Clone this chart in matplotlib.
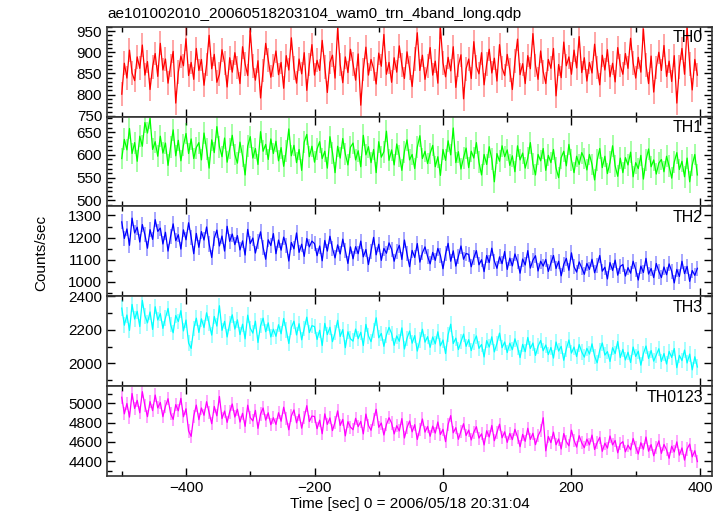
import numpy as np
import matplotlib
matplotlib.use("Agg")
import matplotlib.pyplot as plt
from matplotlib.ticker import MultipleLocator

plt.rcParams['font.family'] = ['Liberation Sans', 'DejaVu Sans']

# light curve binned at 4 s, first bin at -500 s
t_start = -500
bin_size = 4

th0 = [
    801, 874, 839, 905, 851, 833, 889, 862, 917, 846, 878, 812, 866, 897, 843,
    921, 858, 884, 827, 869, 902, 780, 853, 891, 868, 932, 845, 876, 836, 909,
    857, 883, 822, 871, 940, 861, 895, 829, 848, 906, 874, 818, 887, 853, 899,
    864, 826, 913, 872, 845, 951, 868, 834, 880, 792, 857, 921, 882, 841, 869,
    903, 847, 876, 815, 892, 858, 934, 863, 827, 884, 849, 899, 810, 871, 918,
    846, 881, 857, 928, 866, 805, 876, 893, 839, 957, 871, 828, 889, 852, 907,
    872, 834, 896, 775, 859, 912, 846, 883, 861, 825, 898, 867, 942, 848, 876,
    829, 887, 853, 915, 870, 838, 901, 862, 819, 884, 946, 857, 893, 836, 868,
    911, 846, 879, 827, 960, 875, 842, 888, 856, 913, 817, 869, 894, 790, 861,
    884, 838, 925, 866, 849, 899, 823, 872, 907, 851, 886, 832, 918, 863, 845,
    895, 858, 812, 879, 931, 847, 873, 826, 892, 861, 944, 869, 836, 903, 854,
    826, 883, 862, 909, 797, 871, 840, 924, 868, 889, 848, 905, 863, 937, 852,
    887, 832, 876, 851, 919, 864, 823, 893, 858, 906, 842, 874, 830, 911, 869,
    848, 897, 862, 933, 875, 839, 888, 853, 955, 870, 826, 891, 806, 864, 900,
    857, 916, 843, 879, 831, 892, 780, 865, 909, 848, 958, 872, 811, 883, 846,
]

th1 = [
    592, 634, 611, 658, 603, 627, 586, 641, 619, 671, 648, 680, 612, 629, 597,
    641, 604, 626, 577, 618, 655, 598, 632, 587, 621, 647, 603, 635, 592, 616,
    627, 589, 648, 612, 571, 633, 605, 662, 618, 596, 637, 584, 614, 643, 601,
    582, 628, 597, 556, 619, 640, 593, 614, 579, 651, 608, 623, 590, 635, 603,
    630, 587, 616, 575, 609, 657, 598, 621, 583, 612, 566, 628, 645, 596, 619,
    584, 613, 629, 592, 608, 571, 640, 605, 561, 619, 593, 636, 602, 578, 617,
    626, 589, 609, 574, 643, 600, 618, 583, 612, 561, 629, 595, 607, 652, 588,
    611, 578, 624, 598, 566, 607, 633, 589, 601, 570, 617, 642, 592, 608, 581,
    603, 621, 574, 596, 555, 612, 588, 631, 600, 659, 583, 607, 569, 594, 615,
    572, 608, 593, 627, 584, 556, 601, 579, 618, 591, 541, 603, 586, 620, 596,
    611, 577, 598, 563, 620, 589, 604, 571, 593, 627, 580, 556, 601, 587, 614,
    566, 599, 583, 612, 571, 550, 594, 608, 576, 623, 588, 561, 597, 579, 605,
    592, 567, 601, 579, 545, 588, 614, 572, 597, 559, 584, 620, 576, 553, 593,
    561, 594, 578, 606, 552, 583, 570, 599, 547, 588, 613, 574, 589, 558, 582,
    590, 563, 597, 575, 549, 584, 605, 568, 586, 552, 593, 541, 578, 601, 556,
]

th2 = [
    1271, 1196, 1239, 1165, 1288, 1221, 1247, 1180, 1259, 1213, 1152, 1236, 1192, 1281, 1228,
    1243, 1171, 1224, 1139, 1206, 1262, 1186, 1213, 1148, 1235, 1190, 1267, 1202, 1127, 1219,
    1156, 1227, 1189, 1248, 1171, 1110, 1198, 1234, 1162, 1207, 1139, 1251, 1183, 1216, 1168,
    1209, 1144, 1185, 1121, 1237, 1173, 1198, 1130, 1181, 1226, 1155, 1102, 1190, 1164, 1218,
    1127, 1189, 1143, 1202, 1166, 1094, 1178, 1149, 1221, 1133, 1170, 1115, 1196, 1158, 1184,
    1173, 1118, 1162, 1095, 1187, 1139, 1206, 1151, 1108, 1167, 1126, 1193, 1141, 1083, 1158,
    1104, 1159, 1127, 1184, 1113, 1146, 1078, 1139, 1201, 1122, 1170, 1097, 1151, 1129, 1176,
    1148, 1093, 1137, 1165, 1101, 1189, 1126, 1068, 1142, 1110, 1173, 1089, 1131, 1158, 1115,
    1081, 1133, 1097, 1151, 1119, 1059, 1126, 1174, 1093, 1140, 1071, 1115, 1162, 1102, 1128,
    1124, 1068, 1109, 1141, 1077, 1100, 1046, 1119, 1087, 1152, 1094, 1061, 1113, 1082, 1137,
    1056, 1107, 1072, 1126, 1091, 1039, 1103, 1076, 1141, 1062, 1098, 1118, 1049, 1093, 1071,
    1101, 1047, 1085, 1119, 1060, 1093, 1027, 1079, 1106, 1052, 1131, 1068, 1044, 1090, 1063,
    1034, 1083, 1056, 1102, 1041, 1075, 1119, 1048, 1066, 1013, 1087, 1051, 1098, 1030, 1070,
    1078, 1026, 1064, 1039, 1093, 1055, 1008, 1071, 1042, 1106, 1035, 1060, 1019, 1083, 1047,
    1019, 1067, 1032, 1081, 1048, 995, 1056, 1024, 1093, 1037, 1070, 1002, 1051, 1029, 1061,
]

th3 = [
    2329, 2227, 2288, 2196, 2351, 2264, 2310, 2219, 2375, 2283, 2241, 2306, 2202, 2337, 2258,
    2296, 2208, 2271, 2327, 2230, 2182, 2285, 2249, 2314, 2193, 2258, 2121, 2089, 2207, 2269,
    2184, 2265, 2213, 2301, 2237, 2168, 2279, 2222, 2343, 2196, 2250, 2157, 2236, 2289, 2204,
    2259, 2171, 2233, 2146, 2287, 2209, 2180, 2251, 2124, 2224, 2269, 2188, 2241, 2157, 2203,
    2161, 2230, 2176, 2267, 2198, 2118, 2214, 2251, 2169, 2236, 2140, 2209, 2275, 2183, 2224,
    2219, 2142, 2197, 2106, 2238, 2171, 2215, 2129, 2183, 2256, 2160, 2201, 2093, 2188, 2146,
    2132, 2204, 2147, 2185, 2106, 2232, 2163, 2129, 2196, 2271, 2152, 2178, 2101, 2169, 2214,
    2178, 2107, 2163, 2131, 2211, 2085, 2149, 2192, 2120, 2165, 2073, 2139, 2203, 2126, 2159,
    2095, 2157, 2116, 2188, 2104, 2139, 2058, 2171, 2233, 2118, 2150, 2082, 2129, 2174, 2101,
    2141, 2076, 2127, 2163, 2089, 2112, 2038, 2135, 2097, 2158, 2068, 2119, 2180, 2093, 2127,
    2064, 2120, 2081, 2146, 2095, 2034, 2113, 2069, 2154, 2088, 2121, 2047, 2102, 2136, 2075,
    2109, 2052, 2094, 2031, 2127, 2073, 2101, 2018, 2085, 2139, 2061, 2097, 2040, 2112, 2068,
    2037, 2089, 2055, 2116, 2042, 2003, 2078, 2121, 2049, 2070, 2011, 2093, 2058, 2130, 2034,
    2083, 2020, 2066, 2005, 2097, 2041, 2072, 1989, 2058, 2103, 2029, 2076, 2013, 2050, 2087,
    2011, 2058, 1996, 2071, 2035, 2088, 1974, 2047, 2016, 2079, 2002, 2055, 1961, 2039, 1978,
]

th0123 = [
    5063, 4891, 4998, 4857, 5102, 4947, 5031, 4902, 5121, 4976, 4862, 5018, 4925, 5086, 4953,
    5009, 4862, 4971, 5048, 4893, 4834, 4987, 4923, 5052, 4861, 4944, 4714, 4658, 4867, 4982,
    4831, 4952, 4876, 5017, 4903, 4789, 4968, 4871, 5071, 4842, 4920, 4803, 4911, 4993, 4858,
    4939, 4806, 4897, 4762, 4981, 4853, 4818, 4927, 4741, 4889, 4952, 4826, 4902, 4779, 4851,
    4782, 4903, 4815, 4960, 4847, 4726, 4871, 4932, 4798, 4887, 4743, 4853, 4976, 4812, 4868,
    4864, 4737, 4826, 4685, 4891, 4782, 4849, 4718, 4806, 4922, 4771, 4834, 4663, 4810, 4754,
    4727, 4845, 4759, 4813, 4684, 4889, 4770, 4721, 4833, 4938, 4752, 4796, 4672, 4781, 4851,
    4796, 4683, 4768, 4714, 4842, 4641, 4749, 4817, 4705, 4779, 4626, 4733, 4838, 4702, 4761,
    4659, 4764, 4692, 4807, 4677, 4731, 4603, 4782, 4873, 4695, 4748, 4628, 4712, 4789, 4667,
    4723, 4621, 4702, 4758, 4640, 4684, 4569, 4716, 4652, 4771, 4613, 4697, 4784, 4643, 4705,
    4596, 4688, 4624, 4731, 4651, 4551, 4679, 4607, 4742, 4626, 4690, 4572, 4663, 4718, 4851,
    4508, 4657, 4593, 4702, 4571, 4631, 4528, 4687, 4603, 4560, 4722, 4619, 4547, 4665, 4590,
    4541, 4629, 4570, 4671, 4522, 4593, 4648, 4503, 4587, 4536, 4662, 4569, 4615, 4488, 4580,
    4603, 4498, 4567, 4519, 4636, 4547, 4476, 4592, 4525, 4651, 4504, 4572, 4457, 4540, 4611,
    4482, 4574, 4519, 4431, 4556, 4497, 4601, 4463, 4538, 4412, 4527, 4578, 4446, 4509, 4397,
]

band_names = ["TH0", "TH1", "TH2", "TH3", "TH0123"]
band_errors = [28, 24, 34, 46, 68]
colors = ["#ff0000", "#00ff00", "#0000ff", "#00ffff", "#ff00ff"]
ylims = [(748, 960), (487, 684), (935, 1341), (1865, 2400), (4250, 5180)]
major_steps = [50, 50, 100, 200, 200]
minor_steps = [10, 10, 50, 100, 100]

series = [th0, th1, th2, th3, th0123]
t = t_start + bin_size * np.arange(len(th0))

fig, axes = plt.subplots(5, 1, sharex=True, figsize=(7.23, 5.16), dpi=100)
fig.subplots_adjust(left=0.148, right=0.985, top=0.948, bottom=0.078, hspace=0)

for i, ax in enumerate(axes):
    y = np.array(series[i])
    ax.errorbar(t, y, yerr=band_errors[i], fmt='none', ecolor=colors[i],
                elinewidth=1.1, alpha=0.45)
    ax.plot(t, y, color=colors[i], lw=0.9)
    ax.set_ylim(*ylims[i])
    ax.set_xlim(-523, 419)
    ax.yaxis.set_major_locator(MultipleLocator(major_steps[i]))
    ax.yaxis.set_minor_locator(MultipleLocator(minor_steps[i]))
    ax.xaxis.set_major_locator(MultipleLocator(200))
    ax.xaxis.set_minor_locator(MultipleLocator(100))
    ax.tick_params(which='both', direction='in', top=True, right=True,
                   labelsize=11, width=1)
    ax.tick_params(which='major', length=6)
    ax.tick_params(which='minor', length=3.5)
    for s in ax.spines.values():
        s.set_linewidth(1.2)
        s.set_color("#333333")
    ax.text(0.985, 0.96, band_names[i], transform=ax.transAxes,
            ha='right', va='top', fontsize=11.5)

axes[-1].set_xlabel("Time [sec] 0 = 2006/05/18 20:31:04", fontsize=11, labelpad=2)
fig.text(0.057, 0.51, "Counts/sec", rotation=90, ha='center', va='center', fontsize=11)
fig.text(0.148, 0.972, "ae101002010_20060518203104_wam0_trn_4band_long.qdp",
         ha='left', va='center', fontsize=11)

fig.savefig("out.png", dpi=100)
